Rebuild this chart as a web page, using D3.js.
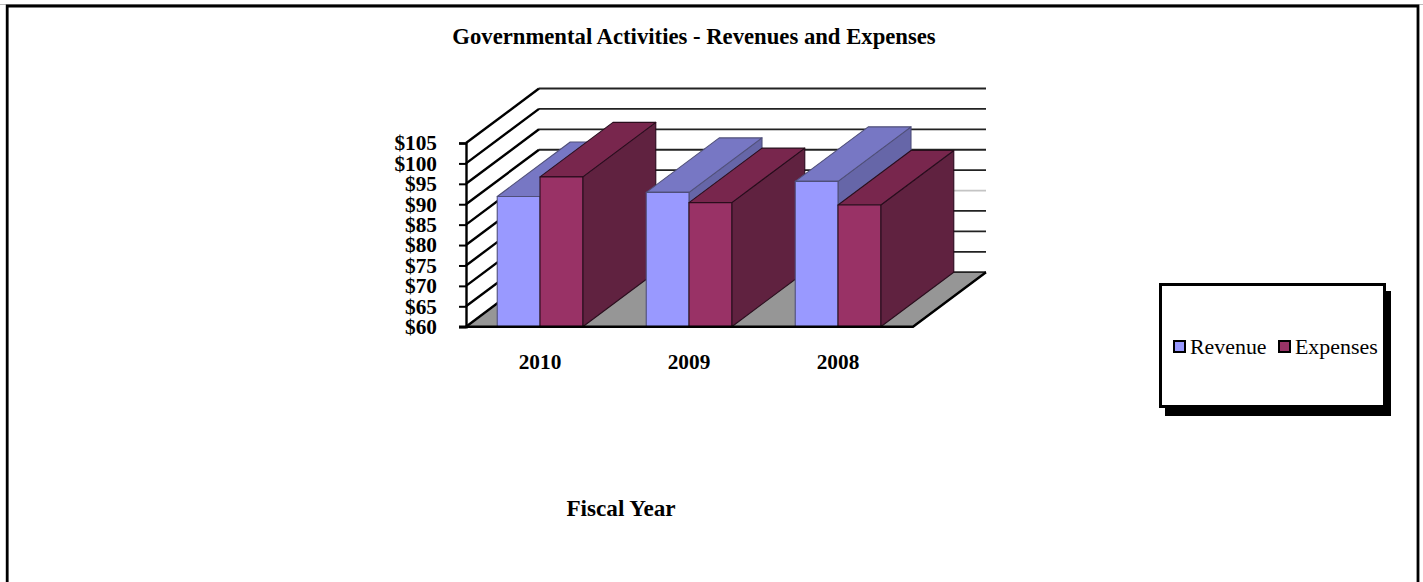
<!DOCTYPE html>
<html><head><meta charset="utf-8">
<script src="https://cdn.jsdelivr.net/npm/d3@7"></script>
<style>html,body{margin:0;padding:0;background:#fff}svg{display:block}text{font-family:"Liberation Serif",serif;fill:#000}</style>
</head><body><svg id="c" width="1423" height="582"></svg>
<script>
const title = "Governmental Activities - Revenues and Expenses";
const xTitle = "Fiscal Year";
const years = ["2010", "2009", "2008"];
const seriesNames = ["Revenue", "Expenses"];
const revenue = [91.9, 92.9, 95.6];
const expenses = [96.7, 90.4, 89.8];
const yTicks = [60, 65, 70, 75, 80, 85, 90, 95, 100, 105];

const frontColor = ["#9999ff", "#993366"];
const topColor = ["#7777c4", "#78284e"];
const sideColor = ["#6666a8", "#602040"];
const edgeColor = ["#50507a", "#2a0f1e"];
const dx = 73, dy = -54.5;

const svg = d3.select("#c");
const defs = svg.append("defs");
defs.append("filter").attr("id", "soft").append("feGaussianBlur").attr("stdDeviation", 0.4);

// outer frame
svg.append("rect").attr("x", 0).attr("y", 4).attr("width", 1423).attr("height", 1).attr("fill", "#bbb");
svg.append("path").attr("d", "M7.2,582V6H1418V582").attr("fill", "none").attr("stroke", "#000").attr("stroke-width", 2.8);

const y = d3.scaleLinear().domain([60, 105]).range([326.7, 143]);
const x0 = d3.scaleBand().domain(years).range([465.5, 912.5]).paddingInner(0.426).paddingOuter(0.213);
const x1 = d3.scaleBand().domain(seriesNames).range([0, x0.bandwidth()]);

const g = svg.append("g").attr("filter", "url(#soft)");

// floor
const xL = 466, xR = 913, y0 = y(60);
g.append("path").attr("d", `M${xL},${y0}L${xR},${y0}L${xR + dx},${y0 + dy}L${xL + dx},${y0 + dy}Z`).attr("fill", "#969696");

// back wall grid and side wall lines
yTicks.forEach(t => {
  const yy = y(t);
  g.append("line").attr("x1", xL + dx).attr("x2", xR + dx).attr("y1", yy + dy).attr("y2", yy + dy)
    .attr("stroke", t === 80 ? "#c4c4c4" : "#222").attr("stroke-width", 1.8);
  g.append("line").attr("x1", xL).attr("x2", xL + dx).attr("y1", yy).attr("y2", yy + dy)
    .attr("stroke", "#000").attr("stroke-width", 2.4);
});

// bars, left to right
years.forEach((yr, i) => {
  [revenue[i], expenses[i]].forEach((v, s) => {
    const bx = x0(yr) + x1(seriesNames[s]), w = x1.bandwidth(), ty = y(v);
    const b = g.append("g").attr("stroke", edgeColor[s]).attr("stroke-width", 1.1).attr("stroke-linejoin", "round");
    b.append("path").attr("d", `M${bx + w},${ty}L${bx + w + dx},${ty + dy}L${bx + w + dx},${y0 + dy}L${bx + w},${y0}Z`).attr("fill", sideColor[s]);
    b.append("path").attr("d", `M${bx},${ty}L${bx + dx},${ty + dy}L${bx + w + dx},${ty + dy}L${bx + w},${ty}Z`).attr("fill", topColor[s]);
    b.append("rect").attr("x", bx).attr("y", ty).attr("width", w).attr("height", y0 - ty).attr("fill", frontColor[s]);
  });
});

// floor front and right edges
g.append("path").attr("d", `M${xR + dx},${y0 + dy}L${xR},${y0}L${xL - 7},${y0}`).attr("fill", "none").attr("stroke", "#000").attr("stroke-width", 2.4);

// axis
const axis = d3.axisLeft(y).tickValues(yTicks).tickSize(7).tickPadding(22).tickFormat(d => "$" + d);
const ag = svg.append("g").attr("transform", `translate(${xL},0)`).call(axis);
ag.select(".domain").attr("stroke", "#000").attr("stroke-width", 2.4);
ag.selectAll(".tick line").attr("stroke", "#000").attr("stroke-width", 2);
ag.selectAll(".tick text").attr("font-size", 21.3).attr("font-weight", "bold").attr("font-family", "Liberation Serif").attr("dy", "0.32em");

// category labels
const xCenter = d => x0(d) + x0.bandwidth() / 2;
svg.selectAll(".cat").data(years).join("text").attr("class", "cat")
  .attr("x", xCenter).attr("y", 369).attr("text-anchor", "middle")
  .attr("font-size", 21.3).attr("font-weight", "bold").text(d => d);

svg.append("text").attr("x", 694).attr("y", 44).attr("text-anchor", "middle")
  .attr("font-size", 22.7).attr("font-weight", "bold").text(title);
svg.append("text").attr("x", 621).attr("y", 516).attr("text-anchor", "middle")
  .attr("font-size", 23.2).attr("font-weight", "bold").text(xTitle);

// legend
svg.append("rect").attr("x", 1165).attr("y", 291).attr("width", 226).attr("height", 125).attr("fill", "#000");
svg.append("rect").attr("x", 1160.5).attr("y", 284.5).attr("width", 224).attr("height", 122).attr("fill", "#fff").attr("stroke", "#000").attr("stroke-width", 3);
const legendSwatchX = [1174, 1279], legendTextX = [1190, 1295];
seriesNames.forEach((n, s) => {
  svg.append("rect").attr("x", legendSwatchX[s]).attr("y", 341).attr("width", 11).attr("height", 11)
    .attr("fill", frontColor[s]).attr("stroke", "#000").attr("stroke-width", 2);
  svg.append("text").attr("x", legendTextX[s]).attr("y", 354).attr("font-size", 21.9).text(n);
});
</script></body></html>
